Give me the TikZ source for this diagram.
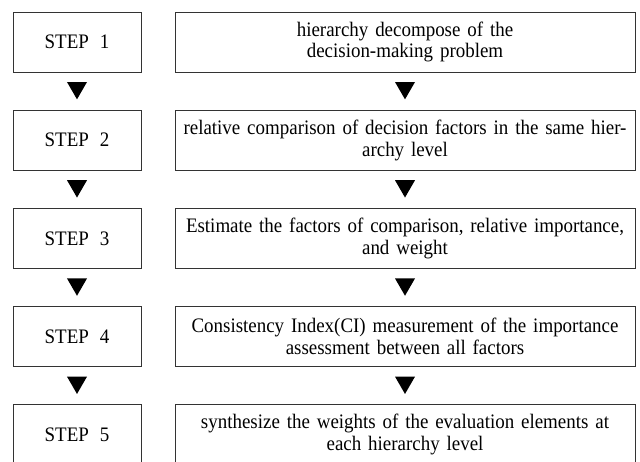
\documentclass[tikz,border=0pt]{standalone}
\usepackage{fontspec}
\setmainfont{Liberation Serif}[FakeStretch=0.92,WordSpace=2.3]
\usetikzlibrary{shapes.geometric}
\begin{document}
\begin{tikzpicture}[x=1pt,y=-1pt,
  boxbase/.style={draw=black!80, line width=0.8pt, inner sep=0pt, outer sep=0pt,
    anchor=north, minimum height=60pt, align=center,
    font=\fontsize{20.6}{21.7}\selectfont},
  stepbox/.style={boxbase, minimum width=128pt},
  descbox/.style={boxbase, minimum width=460pt, text width=456pt},
  tri/.style={regular polygon, regular polygon sides=3, shape border rotate=180,
    fill=black, draw=none, minimum size=23.1pt, inner sep=0pt}]
\clip (0,0) rectangle (640,461);
\fill[white] (0,0) rectangle (640,461);
% rows
\node[stepbox] (s1) at (77,12) {STEP 1};
\node[descbox] (d1) at (405,12) {hierarchy decompose of the\\decision-making problem};
\node[stepbox] (s2) at (77,110.2) {STEP 2};
\node[descbox] (d2) at (405,110.2) {relative comparison of decision factors in the same hier-\\archy level};
\node[stepbox] (s3) at (77,208.4) {STEP 3};
\node[descbox] (d3) at (405,208.4) {Estimate the factors of comparison, relative importance,\\and weight};
\node[stepbox] (s4) at (77,306.6) {STEP 4};
\node[descbox] (d4) at (405,306.6) {Consistency Index(CI) measurement of the importance\\assessment between all factors};
\node[stepbox] (s5) at (77,404.8) {STEP 5};
\node[descbox] (d5) at (405,404.8) {synthesize the weights of the evaluation elements at\\each hierarchy level};
% triangles
\foreach \i/\y in {1/87.8,2/186,3/284.2,4/382.4}{
  \node[tri] (ta\i) at (77,\y) {};
  \node[tri] (tb\i) at (405,\y) {};
}
\end{tikzpicture}
\end{document}
